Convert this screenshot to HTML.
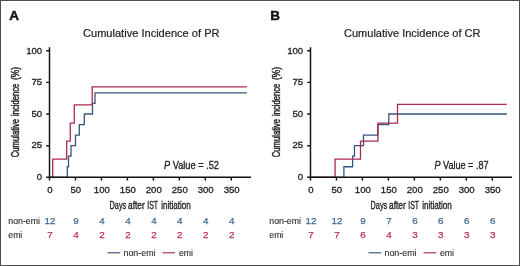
<!DOCTYPE html>
<html><head><meta charset="utf-8"><style>
html,body{margin:0;padding:0;background:#fff;}
svg{display:block;font-family:"Liberation Sans",sans-serif;will-change:transform;}
</style></head><body>
<svg width="520" height="266" viewBox="0 0 520 266">
<rect x="0" y="0" width="520" height="266" fill="#fff"/>
<text x="9.30" y="19.60" font-size="13.5" fill="#111" stroke="#111" stroke-width="0.4" font-weight="bold">A</text>
<text x="83.00" y="36.60" font-size="11" fill="#222" stroke="#222" stroke-width="0.2" textLength="136.50" lengthAdjust="spacingAndGlyphs">Cumulative Incidence of PR</text>
<path d="M49.50,177.30 H67.30 V166.75 H68.50 V156.20 H71.00 V145.65 H75.50 V135.10 H79.30 V124.55 H84.30 V114.00 H92.50 V103.45 H95.00 V92.90 H246.90" stroke="#36557e" stroke-width="1.3" fill="none"/>
<path d="M49.50,177.30 H52.70 V159.21 H66.70 V141.13 H70.30 V123.04 H74.30 V104.96 H92.20 V86.87 H246.90" stroke="#ad2a4f" stroke-width="1.3" fill="none"/>
<path d="M49.50,47.3 V180.5 M46.20,177.30 H251.00" stroke="#111" stroke-width="1.45" fill="none"/>
<path d="M46.20,145.65 H49.50 M46.20,114.00 H49.50 M46.20,82.35 H49.50 M46.20,50.70 H49.50 M75.47,177.30 V180.5 M101.44,177.30 V180.5 M127.41,177.30 V180.5 M153.38,177.30 V180.5 M179.35,177.30 V180.5 M205.32,177.30 V180.5 M231.29,177.30 V180.5 " stroke="#111" stroke-width="1.45" fill="none"/>
<text x="42.20" y="180.10" font-size="9.6" fill="#222" stroke="#222" stroke-width="0.3" text-anchor="end">0</text>
<text x="42.20" y="148.45" font-size="9.6" fill="#222" stroke="#222" stroke-width="0.3" text-anchor="end">25</text>
<text x="42.20" y="116.80" font-size="9.6" fill="#222" stroke="#222" stroke-width="0.3" text-anchor="end">50</text>
<text x="42.20" y="85.15" font-size="9.6" fill="#222" stroke="#222" stroke-width="0.3" text-anchor="end">75</text>
<text x="42.20" y="53.50" font-size="9.6" fill="#222" stroke="#222" stroke-width="0.3" text-anchor="end">100</text>
<text x="49.90" y="192.80" font-size="9.6" fill="#222" stroke="#222" stroke-width="0.3" text-anchor="middle">0</text>
<text x="75.87" y="192.80" font-size="9.6" fill="#222" stroke="#222" stroke-width="0.3" text-anchor="middle">50</text>
<text x="101.84" y="192.80" font-size="9.6" fill="#222" stroke="#222" stroke-width="0.3" text-anchor="middle">100</text>
<text x="127.81" y="192.80" font-size="9.6" fill="#222" stroke="#222" stroke-width="0.3" text-anchor="middle">150</text>
<text x="153.78" y="192.80" font-size="9.6" fill="#222" stroke="#222" stroke-width="0.3" text-anchor="middle">200</text>
<text x="179.75" y="192.80" font-size="9.6" fill="#222" stroke="#222" stroke-width="0.3" text-anchor="middle">250</text>
<text x="205.72" y="192.80" font-size="9.6" fill="#222" stroke="#222" stroke-width="0.3" text-anchor="middle">300</text>
<text x="231.69" y="192.80" font-size="9.6" fill="#222" stroke="#222" stroke-width="0.3" text-anchor="middle">350</text>
<g transform="translate(18.60,0) rotate(-90)"><text x="-157.30" y="0.00" font-size="10.2" fill="#222" stroke="#222" stroke-width="0.45" textLength="38.40" lengthAdjust="spacingAndGlyphs">Cumulative</text><text x="-115.90" y="0.00" font-size="10.2" fill="#222" stroke="#222" stroke-width="0.45" textLength="32.10" lengthAdjust="spacingAndGlyphs">incidence</text><text x="-80.00" y="0.00" font-size="10.2" fill="#222" stroke="#222" stroke-width="0.45" textLength="13.10" lengthAdjust="spacingAndGlyphs">(%)</text></g>
<text x="109.60" y="208.60" font-size="10.8" fill="#222" stroke="#222" stroke-width="0.35" textLength="16.60" lengthAdjust="spacingAndGlyphs">Days</text>
<text x="128.10" y="208.60" font-size="10.8" fill="#222" stroke="#222" stroke-width="0.35" textLength="16.60" lengthAdjust="spacingAndGlyphs">after</text>
<text x="147.30" y="208.60" font-size="10.8" fill="#222" stroke="#222" stroke-width="0.35" textLength="10.80" lengthAdjust="spacingAndGlyphs">IST</text>
<text x="161.20" y="208.60" font-size="10.8" fill="#222" stroke="#222" stroke-width="0.35" textLength="29.60" lengthAdjust="spacingAndGlyphs">initiation</text>
<text x="164.00" y="168.80" font-size="10" fill="#222" stroke="#222" stroke-width="0.3" textLength="55.00" lengthAdjust="spacingAndGlyphs"><tspan font-style="italic">P</tspan> Value = .52</text>
<text x="8.30" y="223.60" font-size="9.5" fill="#2a2a2a" stroke="#2a2a2a" stroke-width="0.12" textLength="31.60" lengthAdjust="spacingAndGlyphs">non-emi</text>
<text x="8.30" y="237.80" font-size="9.5" fill="#2a2a2a" stroke="#2a2a2a" stroke-width="0.12" textLength="14.00" lengthAdjust="spacingAndGlyphs">emi</text>
<text x="50.00" y="223.60" font-size="9.8" fill="#3f6896" stroke="#3f6896" stroke-width="0.25" text-anchor="middle">12</text>
<text x="50.00" y="237.70" font-size="9.8" fill="#bb2f50" stroke="#bb2f50" stroke-width="0.25" text-anchor="middle">7</text>
<text x="75.97" y="223.60" font-size="9.8" fill="#3f6896" stroke="#3f6896" stroke-width="0.25" text-anchor="middle">9</text>
<text x="75.97" y="237.70" font-size="9.8" fill="#bb2f50" stroke="#bb2f50" stroke-width="0.25" text-anchor="middle">4</text>
<text x="101.94" y="223.60" font-size="9.8" fill="#3f6896" stroke="#3f6896" stroke-width="0.25" text-anchor="middle">4</text>
<text x="101.94" y="237.70" font-size="9.8" fill="#bb2f50" stroke="#bb2f50" stroke-width="0.25" text-anchor="middle">2</text>
<text x="127.91" y="223.60" font-size="9.8" fill="#3f6896" stroke="#3f6896" stroke-width="0.25" text-anchor="middle">4</text>
<text x="127.91" y="237.70" font-size="9.8" fill="#bb2f50" stroke="#bb2f50" stroke-width="0.25" text-anchor="middle">2</text>
<text x="153.88" y="223.60" font-size="9.8" fill="#3f6896" stroke="#3f6896" stroke-width="0.25" text-anchor="middle">4</text>
<text x="153.88" y="237.70" font-size="9.8" fill="#bb2f50" stroke="#bb2f50" stroke-width="0.25" text-anchor="middle">2</text>
<text x="179.85" y="223.60" font-size="9.8" fill="#3f6896" stroke="#3f6896" stroke-width="0.25" text-anchor="middle">4</text>
<text x="179.85" y="237.70" font-size="9.8" fill="#bb2f50" stroke="#bb2f50" stroke-width="0.25" text-anchor="middle">2</text>
<text x="205.82" y="223.60" font-size="9.8" fill="#3f6896" stroke="#3f6896" stroke-width="0.25" text-anchor="middle">4</text>
<text x="205.82" y="237.70" font-size="9.8" fill="#bb2f50" stroke="#bb2f50" stroke-width="0.25" text-anchor="middle">2</text>
<text x="231.79" y="223.60" font-size="9.8" fill="#3f6896" stroke="#3f6896" stroke-width="0.25" text-anchor="middle">4</text>
<text x="231.79" y="237.70" font-size="9.8" fill="#bb2f50" stroke="#bb2f50" stroke-width="0.25" text-anchor="middle">2</text>
<path d="M107.50,252.8 H120.30" stroke="#2f4a70" stroke-width="1.1"/>
<text x="123.50" y="255.60" font-size="9.5" fill="#2a2a2a" stroke="#2a2a2a" stroke-width="0.12" textLength="32.00" lengthAdjust="spacingAndGlyphs">non-emi</text>
<path d="M162.50,252.8 H175.00" stroke="#a02446" stroke-width="1.1"/>
<text x="179.00" y="255.60" font-size="9.5" fill="#2a2a2a" stroke="#2a2a2a" stroke-width="0.12" textLength="14.00" lengthAdjust="spacingAndGlyphs">emi</text>
<text x="270.30" y="19.60" font-size="13.5" fill="#111" stroke="#111" stroke-width="0.4" font-weight="bold">B</text>
<text x="344.00" y="36.60" font-size="11" fill="#222" stroke="#222" stroke-width="0.2" textLength="136.50" lengthAdjust="spacingAndGlyphs">Cumulative Incidence of CR</text>
<path d="M310.50,177.30 H343.90 V166.75 H352.60 V156.20 H354.50 V145.65 H363.50 V135.10 H377.70 V124.55 H388.80 V114.00 H506.90" stroke="#36557e" stroke-width="1.3" fill="none"/>
<path d="M310.50,177.30 H335.10 V159.21 H360.50 V141.13 H378.00 V123.04 H397.50 V104.44 H506.90" stroke="#ad2a4f" stroke-width="1.3" fill="none"/>
<path d="M310.50,47.3 V180.5 M307.20,177.30 H512.00" stroke="#111" stroke-width="1.45" fill="none"/>
<path d="M307.20,145.65 H310.50 M307.20,114.00 H310.50 M307.20,82.35 H310.50 M307.20,50.70 H310.50 M336.47,177.30 V180.5 M362.44,177.30 V180.5 M388.41,177.30 V180.5 M414.38,177.30 V180.5 M440.35,177.30 V180.5 M466.32,177.30 V180.5 M492.29,177.30 V180.5 " stroke="#111" stroke-width="1.45" fill="none"/>
<text x="303.20" y="180.10" font-size="9.6" fill="#222" stroke="#222" stroke-width="0.3" text-anchor="end">0</text>
<text x="303.20" y="148.45" font-size="9.6" fill="#222" stroke="#222" stroke-width="0.3" text-anchor="end">25</text>
<text x="303.20" y="116.80" font-size="9.6" fill="#222" stroke="#222" stroke-width="0.3" text-anchor="end">50</text>
<text x="303.20" y="85.15" font-size="9.6" fill="#222" stroke="#222" stroke-width="0.3" text-anchor="end">75</text>
<text x="303.20" y="53.50" font-size="9.6" fill="#222" stroke="#222" stroke-width="0.3" text-anchor="end">100</text>
<text x="310.90" y="192.80" font-size="9.6" fill="#222" stroke="#222" stroke-width="0.3" text-anchor="middle">0</text>
<text x="336.87" y="192.80" font-size="9.6" fill="#222" stroke="#222" stroke-width="0.3" text-anchor="middle">50</text>
<text x="362.84" y="192.80" font-size="9.6" fill="#222" stroke="#222" stroke-width="0.3" text-anchor="middle">100</text>
<text x="388.81" y="192.80" font-size="9.6" fill="#222" stroke="#222" stroke-width="0.3" text-anchor="middle">150</text>
<text x="414.78" y="192.80" font-size="9.6" fill="#222" stroke="#222" stroke-width="0.3" text-anchor="middle">200</text>
<text x="440.75" y="192.80" font-size="9.6" fill="#222" stroke="#222" stroke-width="0.3" text-anchor="middle">250</text>
<text x="466.72" y="192.80" font-size="9.6" fill="#222" stroke="#222" stroke-width="0.3" text-anchor="middle">300</text>
<text x="492.69" y="192.80" font-size="9.6" fill="#222" stroke="#222" stroke-width="0.3" text-anchor="middle">350</text>
<g transform="translate(279.60,0) rotate(-90)"><text x="-157.30" y="0.00" font-size="10.2" fill="#222" stroke="#222" stroke-width="0.45" textLength="38.40" lengthAdjust="spacingAndGlyphs">Cumulative</text><text x="-115.90" y="0.00" font-size="10.2" fill="#222" stroke="#222" stroke-width="0.45" textLength="32.10" lengthAdjust="spacingAndGlyphs">incidence</text><text x="-80.00" y="0.00" font-size="10.2" fill="#222" stroke="#222" stroke-width="0.45" textLength="13.10" lengthAdjust="spacingAndGlyphs">(%)</text></g>
<text x="370.60" y="208.60" font-size="10.8" fill="#222" stroke="#222" stroke-width="0.35" textLength="16.60" lengthAdjust="spacingAndGlyphs">Days</text>
<text x="389.10" y="208.60" font-size="10.8" fill="#222" stroke="#222" stroke-width="0.35" textLength="16.60" lengthAdjust="spacingAndGlyphs">after</text>
<text x="408.30" y="208.60" font-size="10.8" fill="#222" stroke="#222" stroke-width="0.35" textLength="10.80" lengthAdjust="spacingAndGlyphs">IST</text>
<text x="422.20" y="208.60" font-size="10.8" fill="#222" stroke="#222" stroke-width="0.35" textLength="29.60" lengthAdjust="spacingAndGlyphs">initiation</text>
<text x="434.50" y="168.80" font-size="10" fill="#222" stroke="#222" stroke-width="0.3" textLength="54.00" lengthAdjust="spacingAndGlyphs"><tspan font-style="italic">P</tspan> Value = .87</text>
<text x="269.30" y="223.60" font-size="9.5" fill="#2a2a2a" stroke="#2a2a2a" stroke-width="0.12" textLength="31.60" lengthAdjust="spacingAndGlyphs">non-emi</text>
<text x="269.30" y="237.80" font-size="9.5" fill="#2a2a2a" stroke="#2a2a2a" stroke-width="0.12" textLength="14.00" lengthAdjust="spacingAndGlyphs">emi</text>
<text x="311.00" y="223.60" font-size="9.8" fill="#3f6896" stroke="#3f6896" stroke-width="0.25" text-anchor="middle">12</text>
<text x="311.00" y="237.70" font-size="9.8" fill="#bb2f50" stroke="#bb2f50" stroke-width="0.25" text-anchor="middle">7</text>
<text x="336.97" y="223.60" font-size="9.8" fill="#3f6896" stroke="#3f6896" stroke-width="0.25" text-anchor="middle">12</text>
<text x="336.97" y="237.70" font-size="9.8" fill="#bb2f50" stroke="#bb2f50" stroke-width="0.25" text-anchor="middle">7</text>
<text x="362.94" y="223.60" font-size="9.8" fill="#3f6896" stroke="#3f6896" stroke-width="0.25" text-anchor="middle">9</text>
<text x="362.94" y="237.70" font-size="9.8" fill="#bb2f50" stroke="#bb2f50" stroke-width="0.25" text-anchor="middle">6</text>
<text x="388.91" y="223.60" font-size="9.8" fill="#3f6896" stroke="#3f6896" stroke-width="0.25" text-anchor="middle">7</text>
<text x="388.91" y="237.70" font-size="9.8" fill="#bb2f50" stroke="#bb2f50" stroke-width="0.25" text-anchor="middle">4</text>
<text x="414.88" y="223.60" font-size="9.8" fill="#3f6896" stroke="#3f6896" stroke-width="0.25" text-anchor="middle">6</text>
<text x="414.88" y="237.70" font-size="9.8" fill="#bb2f50" stroke="#bb2f50" stroke-width="0.25" text-anchor="middle">3</text>
<text x="440.85" y="223.60" font-size="9.8" fill="#3f6896" stroke="#3f6896" stroke-width="0.25" text-anchor="middle">6</text>
<text x="440.85" y="237.70" font-size="9.8" fill="#bb2f50" stroke="#bb2f50" stroke-width="0.25" text-anchor="middle">3</text>
<text x="466.82" y="223.60" font-size="9.8" fill="#3f6896" stroke="#3f6896" stroke-width="0.25" text-anchor="middle">6</text>
<text x="466.82" y="237.70" font-size="9.8" fill="#bb2f50" stroke="#bb2f50" stroke-width="0.25" text-anchor="middle">3</text>
<text x="492.79" y="223.60" font-size="9.8" fill="#3f6896" stroke="#3f6896" stroke-width="0.25" text-anchor="middle">6</text>
<text x="492.79" y="237.70" font-size="9.8" fill="#bb2f50" stroke="#bb2f50" stroke-width="0.25" text-anchor="middle">3</text>
<path d="M368.50,252.8 H381.30" stroke="#2f4a70" stroke-width="1.1"/>
<text x="384.50" y="255.60" font-size="9.5" fill="#2a2a2a" stroke="#2a2a2a" stroke-width="0.12" textLength="32.00" lengthAdjust="spacingAndGlyphs">non-emi</text>
<path d="M423.50,252.8 H436.00" stroke="#a02446" stroke-width="1.1"/>
<text x="440.00" y="255.60" font-size="9.5" fill="#2a2a2a" stroke="#2a2a2a" stroke-width="0.12" textLength="14.00" lengthAdjust="spacingAndGlyphs">emi</text>
<rect x="0.5" y="0.5" width="519" height="265" fill="none" stroke="#4d4d4d" stroke-width="1"/>
</svg>
</body></html>
